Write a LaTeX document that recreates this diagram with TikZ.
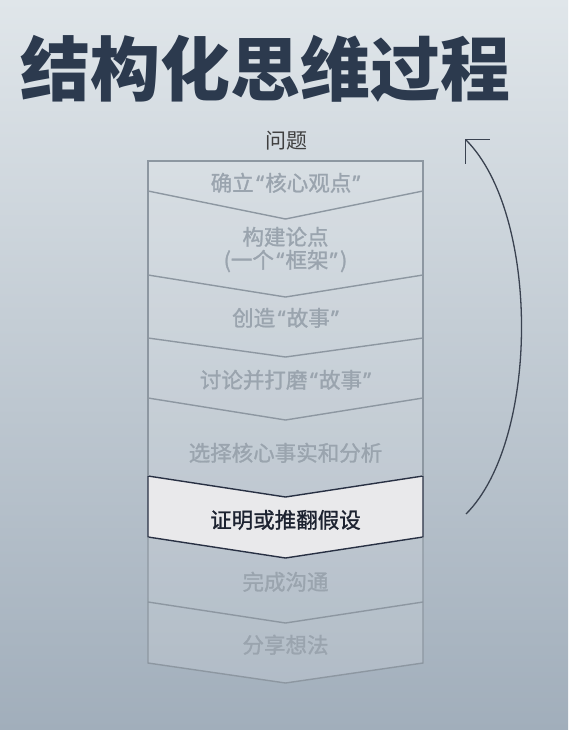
\documentclass[tikz,border=0pt]{standalone}
\usepackage{fontspec}
\setmainfont{Noto Sans CJK SC}
\newfontfamily\stepfont{Noto Sans CJK SC}[FakeBold=1.2]
\newfontfamily\qfont{Noto Sans}[FakeBold=1.2]
\newcommand\myqo{\hspace{0.12em}{\qfont “}\hspace{0.06em}}
\newcommand\myqc{\hspace{0.06em}{\qfont ”}\hspace{0.12em}}
\usetikzlibrary{arrows.meta}
\definecolor{bgtop}{HTML}{E0E6EA}
\definecolor{bgmid}{HTML}{C2CCD5}
\definecolor{bgbot}{HTML}{A1AEBB}
\definecolor{titlec}{HTML}{2C3A4E}
\definecolor{stepc}{HTML}{9AA4AE}
\definecolor{linec}{HTML}{8D97A1}
\definecolor{hlfill}{HTML}{E9E9EB}
\definecolor{hlline}{HTML}{283043}
\definecolor{hltext}{HTML}{1C2230}
\definecolor{arrowc}{HTML}{3A4250}
\begin{document}
\begin{tikzpicture}[x=1pt,y=-1pt,
  steptext/.style={font=\stepfont\fontsize{21.5}{26}\selectfont, text=stepc, anchor=base, inner sep=0pt},
  chev/.style={draw=linec, line width=1.4pt},
]
\useasboundingbox (0,0) rectangle (568,730);
\shade[top color=bgtop, middle color=bgmid, bottom color=bgbot] (0,0) rectangle (568,730);

% title
\node[font=\fontsize{70}{80}\selectfont\bfseries, text=titlec, anchor=base, inner sep=0pt] (title) at (265,96) {结构化思维过程};
\node[font=\fontsize{21}{26}\selectfont, text=black!75, anchor=base, inner sep=0pt] (q) at (286,149) {问题};

% column background
\fill[white, fill opacity=0.14] (148,161) -- (423,161) -- (423,663) -- (285.5,683) -- (148,663) -- cycle;
% highlighted box
\filldraw[fill=hlfill, draw=hlline, line width=1.4pt] (148,476) -- (285.5,497) -- (423,476) -- (423,537) -- (285.5,558) -- (148,537) -- cycle;

% outline
\draw[chev] (148,476) -- (148,161) -- (423,161) -- (423,476);
\draw[chev] (148,537) -- (148,663) -- (285.5,683) -- (423,663) -- (423,537);
\foreach \s/\t in {191/219, 275/297, 338/357, 398/420, 602/623}
  \draw[chev] (148,\s) -- (285.5,\t) -- (423,\s);

% step texts
\node[steptext] (s1) at (285.5,191) {确立\myqo 核心观点\myqc};
\node[steptext] (s2a) at (285.5,245) {构建论点};
\node[steptext] (s2b) at (285.5,268) {(一个\myqo 框架\myqc)};
\node[steptext] (s3) at (285.5,326) {创造\myqo 故事\myqc};
\node[steptext] (s4) at (285.5,388) {讨论并打磨\myqo 故事\myqc};
\node[steptext] (s5) at (285.5,461) {选择核心事实和分析};
\node[steptext, text=hltext] (s6) at (285.5,528) {证明或推翻假设};
\node[steptext] (s7) at (285.5,590) {完成沟通};
\node[steptext] (s8) at (285.5,653) {分享想法};

% return arrow
\coordinate (as) at (466,514);
\coordinate (ae) at (465,139);
\draw[arrowc, line width=1.3pt, -{Straight Barb[length=17pt,width=34pt]}] (as) .. controls (540,440) and (540,214) .. (ae);
\end{tikzpicture}
\end{document}
